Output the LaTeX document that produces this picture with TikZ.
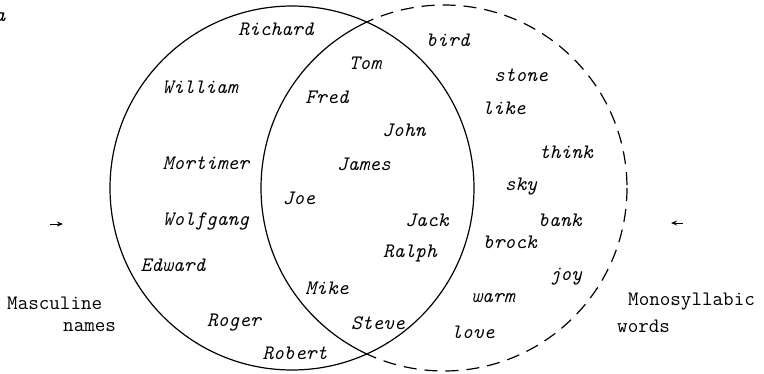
\documentclass[tikz,border=0pt]{standalone}
\usepackage{fontspec}
\usetikzlibrary{arrows.meta}
\tikzset{
  word/.style={font=\fontsize{20.5}{24}\selectfont\ttfamily\itshape, inner sep=0pt, anchor=center},
  label/.style={font=\fontsize{20.5}{24}\selectfont\ttfamily, inner sep=0pt, align=left},
  setline/.style={line width=1.2pt},
  setdash/.style={line width=1.2pt, dash pattern=on 13pt off 8pt},
  pointer/.style={line width=1pt, -{Stealth[length=6pt,width=5pt]}}
}
\begin{document}
\begin{tikzpicture}[x=1pt,y=-1pt]
\useasboundingbox (0,0) rectangle (764,373);
% sets
\coordinate (Lc) at (292,188);
\coordinate (Rc) at (444,188);
\draw[setline] (Lc) circle[radius=182];
\begin{scope}
  \clip (Lc) circle[radius=182];
  \draw[setline] (Rc) circle[radius=183];
\end{scope}
\begin{scope}[even odd rule]
  \clip (-20,-20) rectangle (800,400) (Lc) circle[radius=182];
  \draw[setdash] (Rc) circle[radius=183];
\end{scope}
% fragment label
\node[word] (frag) at (0,17) {a};
% masculine only
\node[word] (richard) at (276,29) {Richard};
\node[word] (william) at (200,87) {William};
\node[word] (mortimer) at (206,163) {Mortimer};
\node[word] (wolfgang) at (206,222) {Wolfgang};
\node[word] (edward) at (173,265) {Edward};
\node[word] (roger) at (234,323) {Roger};
\node[word] (robert) at (295,353) {Robert};
% both
\node[word] (tom) at (365,63) {Tom};
\node[word] (fred) at (327,97) {Fred};
\node[word] (john) at (404,130) {John};
\node[word] (james) at (364,164) {James};
\node[word] (joe) at (299,198) {Joe};
\node[word] (jack) at (427,220) {Jack};
\node[word] (ralph) at (410,254) {Ralph};
\node[word] (mike) at (327,288) {Mike};
\node[word] (steve) at (378,323) {Steve};
% monosyllabic only
\node[word] (bird) at (448,40) {bird};
\node[word] (stone) at (521,75) {stone};
\node[word] (like) at (504,108) {like};
\node[word] (think) at (566,152) {think};
\node[word] (sky) at (521,187) {sky};
\node[word] (bank) at (560,220) {bank};
\node[word] (brock) at (510,242) {brock};
\node[word] (joy) at (566,277) {joy};
\node[word] (warm) at (493,298) {warm};
\node[word] (love) at (473,332) {love};
% outer labels
\node[label, anchor=west] (masc) at (7,303) {Masculine};
\node[label, anchor=west] (names) at (63,327) {names};
\node[label, anchor=west] (mono) at (628,302) {Monosyllabic};
\node[label, anchor=west] (words) at (617,326) {words};
% pointers
\coordinate (la) at (50,224);
\coordinate (lb) at (63,224);
\coordinate (ra) at (683,223);
\coordinate (rb) at (671,223);
\draw[pointer] (la) -- (lb);
\draw[pointer] (ra) -- (rb);
\end{tikzpicture}
\end{document}
